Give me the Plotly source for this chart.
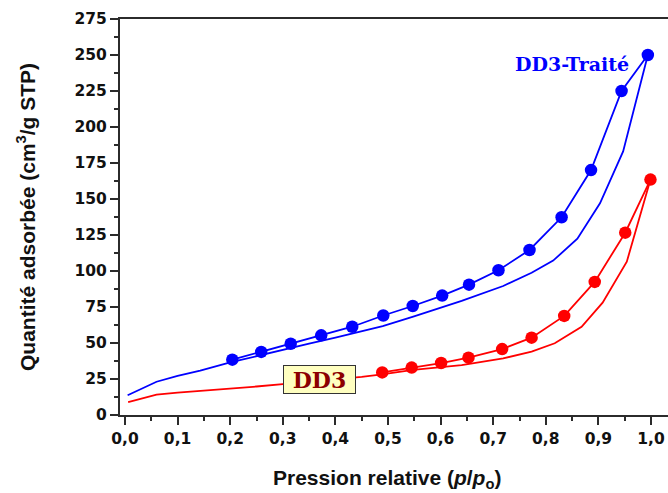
import plotly.graph_objects as go

# DD3-Traité (blue)
blue_lower_x = [0.005, 0.06, 0.1, 0.143, 0.2, 0.25, 0.3, 0.35, 0.4, 0.45, 0.49, 0.548, 0.6, 0.64, 0.719, 0.773, 0.814, 0.86, 0.903, 0.947, 0.994]
blue_lower_y = [13.7, 23.1, 27.1, 30.8, 36.5, 41.0, 45.5, 49.5, 53.8, 58.0, 61.8, 68.3, 74.5, 79.2, 89.6, 98.8, 107.2, 122.4, 147.0, 183.0, 250.0]
blue_upper_x = [0.204, 0.259, 0.315, 0.373, 0.432, 0.491, 0.547, 0.603, 0.654, 0.710, 0.769, 0.830, 0.886, 0.944, 0.994]
blue_upper_y = [38.4, 43.8, 49.5, 55.3, 61.3, 69.1, 75.7, 82.9, 90.5, 100.5, 114.6, 137.3, 170.1, 225.0, 250.0]

# DD3 (red)
red_lower_x = [0.006, 0.06, 0.1, 0.143, 0.2, 0.25, 0.3, 0.35, 0.4, 0.45, 0.485, 0.548, 0.64, 0.719, 0.773, 0.817, 0.868, 0.908, 0.954, 0.999]
red_lower_y = [9.0, 14.1, 15.6, 16.7, 18.3, 19.8, 21.5, 23.0, 24.8, 26.5, 28.0, 31.3, 34.7, 39.3, 44.0, 49.8, 61.3, 78.0, 106.5, 163.5]
red_upper_x = [0.489, 0.545, 0.601, 0.653, 0.717, 0.773, 0.835, 0.893, 0.951, 0.999]
red_upper_y = [29.6, 32.9, 36.1, 39.8, 45.8, 53.7, 68.8, 92.4, 126.6, 163.5]

x_ticks = [0.0, 0.1, 0.2, 0.3, 0.4, 0.5, 0.6, 0.7, 0.8, 0.9, 1.0]
x_labels = ["0,0", "0,1", "0,2", "0,3", "0,4", "0,5", "0,6", "0,7", "0,8", "0,9", "1,0"]
y_ticks = [0, 25, 50, 75, 100, 125, 150, 175, 200, 225, 250, 275]
y_labels = ["0", "25", "50", "75", "100", "125", "150", "175", "200", "225", "250", "275"]

BLUE = "#0000ff"
RED = "#ff0000"
AX = "#2b2b2b"

fig = go.Figure()
fig.add_trace(go.Scatter(x=blue_lower_x, y=blue_lower_y, mode="lines",
                         line=dict(color=BLUE, width=1.8), showlegend=False))
fig.add_trace(go.Scatter(x=blue_upper_x, y=blue_upper_y, mode="lines+markers",
                         line=dict(color=BLUE, width=1.8),
                         marker=dict(color=BLUE, size=12.5), showlegend=False))
fig.add_trace(go.Scatter(x=red_lower_x, y=red_lower_y, mode="lines",
                         line=dict(color=RED, width=1.8), showlegend=False))
fig.add_trace(go.Scatter(x=red_upper_x, y=red_upper_y, mode="lines+markers",
                         line=dict(color=RED, width=1.8),
                         marker=dict(color=RED, size=12.5), showlegend=False))

tickfont = dict(family="DejaVu Sans, sans-serif", size=15.5, color="#111111", weight="bold")

fig.update_xaxes(range=[-0.0095, 1.0323], tickvals=x_ticks,
                 ticktext=x_labels,
                 showline=True, linecolor=AX, linewidth=2, mirror=True,
                 ticks="outside", ticklen=8, tickwidth=1.5, tickcolor=AX,
                 minor=dict(ticks="outside", ticklen=4, tickwidth=1.5, tickcolor=AX, dtick=0.05, tick0=0),
                 showgrid=False, zeroline=False, tickfont=tickfont)
fig.update_yaxes(range=[0, 275], tickvals=y_ticks,
                 ticktext=y_labels,
                 showline=True, linecolor=AX, linewidth=2,
                 ticks="outside", ticklen=8, tickwidth=1.5, tickcolor=AX,
                 minor=dict(ticks="outside", ticklen=4, tickwidth=1.5, tickcolor=AX, dtick=12.5, tick0=0),
                 showgrid=False, zeroline=False, tickfont=tickfont)

fig.add_annotation(text="<b>DD3-Traité</b>", xref="paper", yref="paper",
                   x=(571.7 - 120) / 548, y=(415 - 64) / 396,
                   xanchor="center", yanchor="middle", showarrow=False,
                   font=dict(family="DejaVu Serif, serif", size=19, color=BLUE))
fig.add_annotation(text="<b>DD3</b>", xref="paper", yref="paper",
                   x=(319.7 - 120) / 548, y=(415 - 379.7) / 396,
                   xanchor="center", yanchor="middle", showarrow=False,
                   width=71, height=27, borderpad=0, borderwidth=1,
                   bordercolor="#333333", bgcolor="#ffffc0",
                   font=dict(family="DejaVu Serif, serif", size=22, color="#8b0000"))
fig.add_annotation(text="<b>Quantité adsorbée (cm<sup>3</sup>/g STP)</b>", xref="paper", yref="paper",
                   x=(26 - 120) / 548, y=0.5, textangle=-90,
                   xanchor="center", yanchor="middle", showarrow=False,
                   font=dict(family="Liberation Sans, Arial, sans-serif", size=21, color="#111111"))
fig.add_annotation(text="<b>Pression relative (<i>p</i>/<i>p</i><sub>o</sub>)</b>", xref="paper", yref="paper",
                   x=(386.5 - 120) / 548, y=-(479 - 415) / 396,
                   xanchor="center", yanchor="middle", showarrow=False,
                   font=dict(family="Liberation Sans, Arial, sans-serif", size=21, color="#111111"))

fig.update_layout(width=668, height=493,
                  margin=dict(l=120, r=0, t=19, b=78),
                  paper_bgcolor="white", plot_bgcolor="white")

fig.write_html("out.html")
